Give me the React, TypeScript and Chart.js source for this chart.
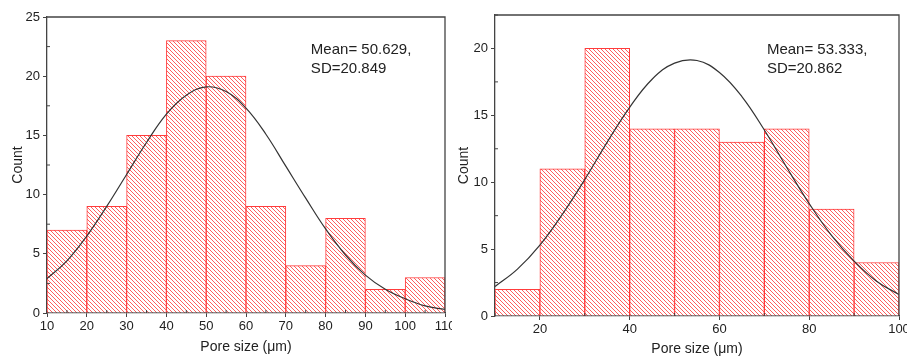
import React, { useEffect, useRef } from "react";
import { Chart, registerables } from "chart.js";

Chart.register(...registerables);

const FONT = 'Arial, "Liberation Sans", sans-serif';

// ---- Left histogram ----
const leftBinCenters = [15, 25, 35, 45, 55, 65, 75, 85, 95, 105];
const leftCounts = [7, 9, 15, 23, 20, 9, 4, 8, 2, 3];
const leftCurveX = [10, 15, 20, 25, 30, 35, 40, 45, 50, 55, 60, 65, 70, 75, 80, 85, 90, 95, 100, 105, 110];
const leftCurveY = [2.9, 4.4, 6.5, 9.0, 11.7, 14.4, 16.8, 18.4, 19.1, 18.7, 17.3, 15.1, 12.4, 9.7, 7.1, 4.9, 3.2, 2.0, 1.2, 0.6, 0.3];
const leftXTicks = [10, 20, 30, 40, 50, 60, 70, 80, 90, 100, 110];
const leftXMinor = [15, 25, 35, 45, 55, 65, 75, 85, 95, 105];
const leftYTicks = [0, 5, 10, 15, 20, 25];
const leftYMinor = [2.5, 7.5, 12.5, 17.5, 22.5];
const leftNote = ["Mean= 50.629,", "SD=20.849"];

// ---- Right histogram ----
const rightBinCenters = [15, 25, 35, 45, 55, 65, 75, 85, 95];
const rightCounts = [2, 11, 20, 14, 14, 13, 14, 8, 4];
const rightCurveX = [10, 15, 20, 25, 30, 35, 40, 45, 50, 55, 60, 65, 70, 75, 80, 85, 90, 95, 100];
const rightCurveY = [2.2, 3.5, 5.3, 7.6, 10.2, 13.0, 15.6, 17.7, 18.9, 19.1, 18.2, 16.4, 13.9, 11.1, 8.4, 6.0, 4.1, 2.6, 1.6];
const rightXTicks = [20, 40, 60, 80, 100];
const rightXMinor = [10, 30, 50, 70, 90];
const rightYTicks = [0, 5, 10, 15, 20];
const rightYMinor = [2.5, 7.5, 12.5, 17.5, 22.5];
const rightNote = ["Mean= 53.333,", "SD=20.862"];

const AXIS_COLOR = "#444";
const TEXT_COLOR = "#222";

function makeHatch(): CanvasPattern | string {
  const s = 4;
  const c = document.createElement("canvas");
  c.width = s;
  c.height = s;
  const g = c.getContext("2d");
  if (!g) return "rgba(255,0,0,0.3)";
  g.fillStyle = "#fff";
  g.fillRect(0, 0, s, s);
  g.strokeStyle = "rgba(255,30,30,0.72)";
  g.lineWidth = 1;
  g.beginPath();
  g.moveTo(-1, -1);
  g.lineTo(s + 1, s + 1);
  g.moveTo(-1, s - 1);
  g.lineTo(1, s + 1);
  g.moveTo(s - 1, -1);
  g.lineTo(s + 1, 1);
  g.stroke();
  return g.createPattern(c, "repeat") || "rgba(255,0,0,0.3)";
}

const extrasPlugin = {
  id: "extras",
  afterDatasetsDraw(chart: any, _args: any, opts: any) {
    const { ctx, chartArea } = chart;
    const { left, right, top, bottom } = chartArea;
    const x = chart.scales.x;
    const y = chart.scales.y;
    ctx.save();
    ctx.strokeStyle = AXIS_COLOR;
    ctx.lineWidth = 1.3;
    ctx.beginPath();
    ctx.moveTo(left, top);
    ctx.lineTo(right, top);
    ctx.lineTo(right, bottom);
    ctx.stroke();
    ctx.lineWidth = 1;
    ctx.beginPath();
    (opts.xMinor || []).forEach((v: number) => {
      const px = x.getPixelForValue(v);
      ctx.moveTo(px, bottom);
      ctx.lineTo(px, bottom - 3);
    });
    (opts.yMinor || []).forEach((v: number) => {
      const py = y.getPixelForValue(v);
      ctx.moveTo(left, py);
      ctx.lineTo(left + 3, py);
    });
    ctx.stroke();
    ctx.fillStyle = TEXT_COLOR;
    ctx.font = `15px ${FONT}`;
    ctx.textBaseline = "alphabetic";
    ctx.textAlign = "left";
    (opts.lines || []).forEach((t: string, i: number) => {
      ctx.fillText(t, left + opts.tx * (right - left), top + opts.ty + i * 19);
    });
    ctx.restore();
  },
};

interface Cfg {
  centers: number[];
  counts: number[];
  curveX: number[];
  curveY: number[];
  xTicks: number[];
  xMinor: number[];
  yTicks: number[];
  yMinor: number[];
  xMin: number;
  xMax: number;
  yMax: number;
  note: string[];
  yAxisWidth: number;
  xAxisHeight: number;
  padTop: number;
  padRight: number;
  yTitlePad: number;
  xTitlePad: number;
  tx: number;
  ty: number;
}

function buildChart(canvas: HTMLCanvasElement, c: Cfg) {
  const hatch = makeHatch();
  return new Chart(canvas, {
    type: "bar",
    data: {
      datasets: [
        {
          type: "line",
          data: c.curveX.map((x, i) => ({ x, y: c.curveY[i] })),
          borderColor: "#333",
          borderWidth: 1.2,
          pointRadius: 0,
          tension: 0.4,
          fill: false,
          order: 0,
        } as any,
        {
          type: "bar",
          data: c.centers.map((x, i) => ({ x, y: c.counts[i] })),
          backgroundColor: hatch as any,
          borderColor: "rgba(255,50,50,0.95)",
          borderWidth: 1,
          barPercentage: 1,
          categoryPercentage: 1,
          order: 1,
        } as any,
      ],
    },
    options: {
      responsive: false,
      animation: false,
      devicePixelRatio: 1,
      layout: { padding: { top: c.padTop, right: c.padRight, left: 0, bottom: 0 } },
      plugins: {
        legend: { display: false },
        tooltip: { enabled: false },
        extras: { xMinor: c.xMinor, yMinor: c.yMinor, lines: c.note, tx: c.tx, ty: c.ty },
      } as any,
      scales: {
        x: {
          type: "linear",
          min: c.xMin,
          max: c.xMax,
          offset: false,
          afterBuildTicks: (s: any) => {
            s.ticks = c.xTicks.map((v) => ({ value: v }));
          },
          afterFit: (s: any) => {
            s.height = c.xAxisHeight;
            s.paddingLeft = 0;
            s.paddingRight = 0;
          },
          grid: {
            offset: false,
            drawOnChartArea: false,
            drawTicks: true,
            tickLength: 4,
            color: AXIS_COLOR,
          },
          border: { display: true, color: AXIS_COLOR, width: 1.3 },
          ticks: {
            color: TEXT_COLOR,
            font: { family: FONT, size: 13 },
            padding: 2,
            maxRotation: 0,
            autoSkip: false,
          },
          title: {
            display: true,
            text: "Pore size (μm)",
            color: TEXT_COLOR,
            font: { family: FONT, size: 14 },
            padding: { top: 0, bottom: c.xTitlePad },
          },
        },
        y: {
          type: "linear",
          min: 0,
          max: c.yMax,
          afterBuildTicks: (s: any) => {
            s.ticks = c.yTicks.map((v) => ({ value: v }));
          },
          afterFit: (s: any) => {
            s.width = c.yAxisWidth;
            s.paddingTop = 0;
            s.paddingBottom = 0;
          },
          grid: {
            drawOnChartArea: false,
            drawTicks: true,
            tickLength: 4,
            color: AXIS_COLOR,
          },
          border: { display: true, color: AXIS_COLOR, width: 1.3 },
          ticks: {
            color: TEXT_COLOR,
            font: { family: FONT, size: 13 },
            padding: 3,
            autoSkip: false,
          },
          title: {
            display: true,
            text: "Count",
            color: TEXT_COLOR,
            font: { family: FONT, size: 14 },
            padding: { top: c.yTitlePad + 1, bottom: 0 },
          },
        },
      },
    },
    plugins: [extrasPlugin as any],
  });
}

const leftCfg: Cfg = {
  centers: leftBinCenters,
  counts: leftCounts,
  curveX: leftCurveX,
  curveY: leftCurveY,
  xTicks: leftXTicks,
  xMinor: leftXMinor,
  yTicks: leftYTicks,
  yMinor: leftYMinor,
  xMin: 10,
  xMax: 110,
  yMax: 25,
  note: leftNote,
  yAxisWidth: 47,
  xAxisHeight: 45,
  padTop: 17,
  padRight: 7,
  yTitlePad: 9,
  xTitlePad: 2,
  tx: 0.663,
  ty: 37,
};

const rightCfg: Cfg = {
  centers: rightBinCenters,
  counts: rightCounts,
  curveX: rightCurveX,
  curveY: rightCurveY,
  xTicks: rightXTicks,
  xMinor: rightXMinor,
  yTicks: rightYTicks,
  yMinor: rightYMinor,
  xMin: 10,
  xMax: 100,
  yMax: 22.5,
  note: rightNote,
  yAxisWidth: 43,
  xAxisHeight: 42,
  padTop: 15,
  padRight: 8,
  yTitlePad: 3,
  xTitlePad: 0,
  tx: 0.673,
  ty: 39,
};

function Histogram({ cfg, width, height }: { cfg: Cfg; width: number; height: number }) {
  const ref = useRef<HTMLCanvasElement | null>(null);
  useEffect(() => {
    if (!ref.current) return;
    const chart = buildChart(ref.current, cfg);
    return () => chart.destroy();
  }, [cfg]);
  return <canvas ref={ref} width={width} height={height} style={{ display: "block", width, height }} />;
}

export default function App() {
  useEffect(() => {
    document.body.style.margin = "0";
    document.body.style.background = "#fff";
  }, []);
  return (
    <div style={{ position: "absolute", left: 0, top: 0, width: 907, height: 358, background: "#fff", overflow: "hidden" }}>
      <div style={{ position: "absolute", left: 0, top: 0 }}>
        <Histogram cfg={leftCfg} width={452} height={358} />
      </div>
      <div style={{ position: "absolute", left: 452, top: 0 }}>
        <Histogram cfg={rightCfg} width={455} height={358} />
      </div>
    </div>
  );
}
